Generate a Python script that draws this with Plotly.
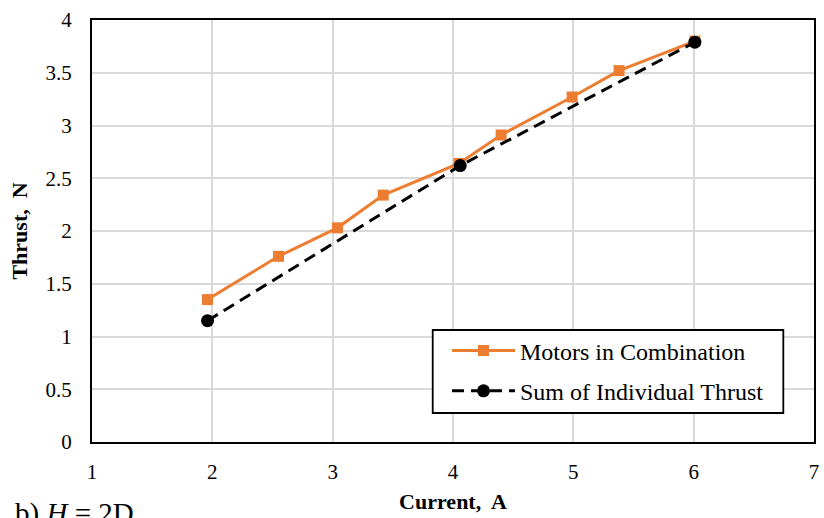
import plotly.graph_objects as go

# Data
combo_current = [1.96, 2.55, 3.04, 3.42, 4.05, 4.40, 4.99, 5.38, 6.01]
combo_thrust = [1.35, 1.76, 2.03, 2.34, 2.64, 2.91, 3.27, 3.52, 3.80]

sum_current = [1.96, 4.06, 6.01]
sum_thrust = [1.15, 2.62, 3.79]

x_ticks = [1, 2, 3, 4, 5, 6, 7]
y_ticks = [0, 0.5, 1, 1.5, 2, 2.5, 3, 3.5, 4]
y_tick_text = ["0", "0.5", "1", "1.5", "2", "2.5", "3", "3.5", "4"]

FONT = "Liberation Serif"

fig = go.Figure()
fig.add_trace(go.Scatter(
    x=combo_current, y=combo_thrust, mode="lines+markers",
    name="Motors in Combination", legendgroup="a",
    line=dict(color="#ED7D31", width=3),
    marker=dict(symbol="square", size=11, color="#ED7D31"),
))
fig.add_trace(go.Scatter(
    x=sum_current, y=sum_thrust, mode="lines+markers",
    name="Sum of Individual Thrust", legendgroup="b",
    line=dict(color="black", width=3, dash="12px,7px"),
    marker=dict(symbol="circle", size=13, color="black"),
))

fig.update_layout(
    width=824, height=518,
    margin=dict(l=92, r=10, t=20, b=76),
    paper_bgcolor="white", plot_bgcolor="white",
    font=dict(family=FONT, size=21, color="black"),
    showlegend=True,
    legend=dict(
        x=0.4917, y=0.269, xanchor="left", yanchor="top",
        bgcolor="rgba(0,0,0,0)", borderwidth=0,
        font=dict(family=FONT, size=24, color="black"),
        itemwidth=63, traceorder="grouped", tracegroupgap=6,
    ),
)
# legend frame
fig.add_shape(
    type="rect", xref="paper", yref="paper",
    x0=0.4719, x1=0.9575, y0=0.0687, y1=0.2654,
    line=dict(color="black", width=1.8), fillcolor="white", layer="above",
)
fig.update_xaxes(
    range=[1, 7], tickvals=x_ticks, showgrid=True, gridcolor="#d9d9d9", gridwidth=1.8,
    showline=True, linecolor="black", linewidth=2, mirror=True,
    ticks="", ticklabelstandoff=10, zeroline=False, automargin=False,
    tickfont=dict(family=FONT, size=21),
    title=dict(text="<b>Current,  A</b>", font=dict(family=FONT, size=22), standoff=10),
)
fig.update_yaxes(
    range=[0, 4], tickvals=y_ticks, ticktext=y_tick_text, showgrid=True, gridcolor="#d9d9d9", gridwidth=1.8,
    showline=True, linecolor="black", linewidth=2, mirror=True,
    ticks="", ticklabelstandoff=14, zeroline=False, automargin=False,
    tickfont=dict(family=FONT, size=21),
    title=dict(text="<b>Thrust,  N</b>", font=dict(family=FONT, size=22), standoff=12),
)
fig.add_annotation(
    xref="paper", yref="paper", x=-0.11, y=-0.125, xanchor="left", yanchor="top",
    text="b) <i>H</i> = 2D", showarrow=False, font=dict(family=FONT, size=29, color="black"),
)

fig.write_html("out.html")
